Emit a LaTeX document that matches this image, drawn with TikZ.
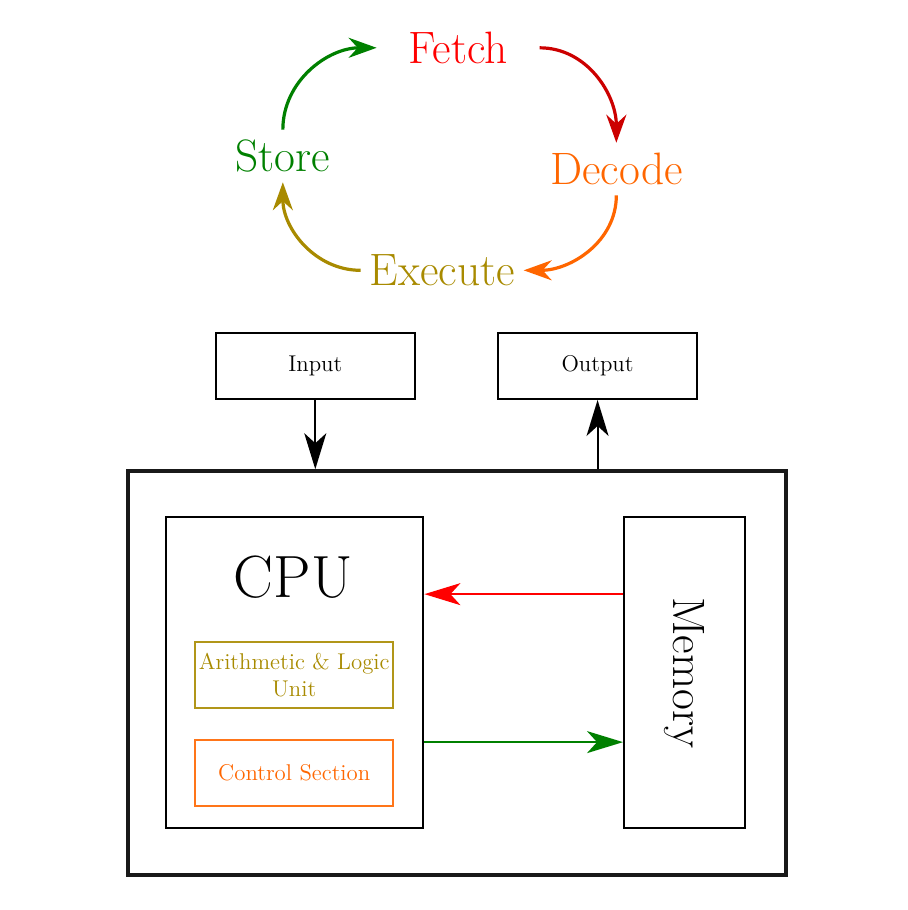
\documentclass[tikz,border=0pt]{standalone}
\usepackage{amsmath}
\usetikzlibrary{arrows.meta,positioning}

\definecolor{fetchred}{HTML}{FF0000}
\definecolor{decodeorange}{HTML}{FF6600}
\definecolor{executegold}{HTML}{A88A00}
\definecolor{storegreen}{HTML}{008000}

\tikzset{
    phase/.style={font=\fontsize{22.7}{27}\selectfont, minimum height=0.91cm, minimum width=2.85cm, inner sep=0pt},
    cyclearrow/.style={-{Stealth[length=14pt, width=10pt]}, line width=1.6pt},
    unit/.style={draw, line width=1pt, minimum width=3.5cm, minimum height=1.16cm, align=center, font=\fontsize{11.4}{13.5}\selectfont},
    bus/.style={line width=1pt, -{Stealth[length=18pt, width=11pt, inset=5pt]}}
}

\begin{document}
\begin{tikzpicture}
        \useasboundingbox (0,0) rectangle (15.94,-15.99);
        % cycle
            \node[phase, text=fetchred] (fetch) at (8.05,-0.84) {Fetch};
            \node[phase, text=decodeorange] (decode) at (10.83,-2.97) {Decode};
            \node[phase, text=executegold] (execute) at (7.77,-4.75) {Execute};
            \node[phase, text=storegreen] (store) at (4.97,-2.74) {Store};
        % cycle arrows
            \draw[cyclearrow, storegreen] (store.north) to[out=90, in=180] (fetch.west);
            \draw[cyclearrow, red!80!black] (fetch.east) to[out=0, in=90] (decode.north);
            \draw[cyclearrow, decodeorange] (decode.south) to[out=-90, in=0] (execute.east);
            \draw[cyclearrow, executegold] (execute.west) to[out=180, in=-90] (store.south);
        % computer
            \node[draw, line width=2pt, draw=black!90, minimum width=11.56cm, minimum height=7.1cm] (sys) at (8.03,-11.83) {};
            \node[unit] (input) at (5.54,-6.43) {Input};
            \node[unit] (output) at (10.5,-6.43) {Output};
            \node[draw, line width=1pt, minimum width=4.52cm, minimum height=5.47cm] (cpu) at (5.18,-11.82) {};
            \node[font=\fontsize{29.8}{35}\selectfont] (cpulabel) at (5.15,-10.14) {CPU};
            \node[unit, draw=executegold!90, text=executegold, inner xsep=0.5pt, minimum width=3.48cm] (alu) at (5.17,-11.86) {Arithmetic \& Logic\\Unit};
            \node[unit, draw=decodeorange!90, text=decodeorange, minimum width=3.48cm] (control) at (5.17,-13.58) {Control Section};
            \node[draw, line width=1pt, minimum width=2.13cm, minimum height=5.47cm] (memory) at (12.03,-11.82) {};
            \node[font=\fontsize{22.7}{27}\selectfont, rotate=-90] (memlabel) at (memory.center) {Memory};
        % connections
            \draw[bus] (input.south) -- (input.south |- sys.north);
            \draw[bus] (output.south |- sys.north) -- (output.south);
            \draw[bus, fetchred] ([yshift=1.38cm]memory.west) -- ([yshift=1.38cm]cpu.east);
            \draw[bus, storegreen] ([yshift=-1.22cm]cpu.east) -- ([yshift=-1.22cm]memory.west);
    \end{tikzpicture}
\end{document}
